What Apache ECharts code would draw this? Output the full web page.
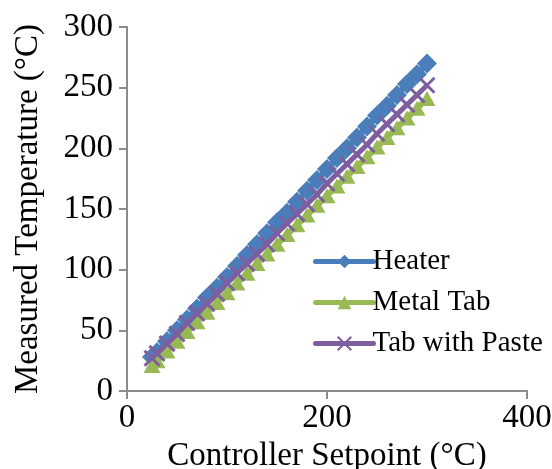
<!DOCTYPE html>
<html>
<head>
<meta charset="utf-8">
<script src="https://cdn.jsdelivr.net/npm/echarts@6/dist/echarts.min.js"></script>
<style>
  html, body { margin: 0; padding: 0; background: #fff; }
  #chart { width: 552px; height: 469px; }
</style>
</head>
<body>
<div id="chart"></div>
<script>
// Controller setpoints (°C)
const setpoints = [25, 30, 40, 50, 60, 70, 80, 90, 100, 110, 120, 130, 140, 150, 160,
                   170, 180, 190, 200, 210, 220, 230, 240, 250, 260, 270, 280, 290, 300];
// Measured temperatures (°C)
const heater = [28, 32, 41, 50, 59, 68, 77, 85, 94, 103, 112, 121, 130, 139, 147,
                156, 165, 174, 183, 192, 200, 209, 218, 227, 235, 244, 253, 261, 270];
const metalTab = [21, 25, 33, 41, 49, 57, 65, 73, 81, 89, 97, 105, 113, 121, 129,
                  137, 145, 153, 161, 169, 177, 185, 193, 201, 209, 217, 225, 233, 241];
const tabWithPaste = [27, 31, 39, 47, 56, 64, 72, 80, 89, 97, 105, 113, 121, 130, 138,
                      146, 154, 162, 171, 179, 187, 195, 203, 212, 220, 228, 236, 244, 252];
const seriesNames = ['Heater', 'Metal Tab', 'Tab with Paste'];
const xTicks = { min: 0, max: 400, interval: 200 };
const yTicks = { min: 0, max: 300, interval: 50 };

const pair = (ys) => setpoints.map((x, i) => [x, ys[i]]);
const font = 'Liberation Serif, Times New Roman, serif';
const axisGray = '#8c8c8c';

const chart = echarts.init(document.getElementById('chart'), null, { renderer: 'canvas' });
chart.setOption({
  animation: false,
  backgroundColor: '#ffffff',
  grid: { left: 127, right: 25, top: 27, bottom: 78, containLabel: false, outerBoundsMode: 'none' },
  legend: {
    orient: 'vertical',
    left: 308,
    top: 242,
    itemWidth: 58,
    itemHeight: 17,
    itemGap: 12,
    lineStyle: { width: 5, cap: 'round' },
    textStyle: { fontFamily: font, fontSize: 29, color: '#000', padding: [0, 0, 0, -6] },
    data: seriesNames
  },
  xAxis: {
    type: 'value',
    min: xTicks.min, max: xTicks.max, interval: xTicks.interval,
    name: 'Controller Setpoint (°C)',
    nameLocation: 'middle',
    nameGap: 44,
    nameTextStyle: { fontFamily: font, fontSize: 33, color: '#000' },
    axisLine: { show: true, lineStyle: { color: axisGray, width: 2 } },
    axisTick: { show: true, inside: false, length: 8, lineStyle: { color: axisGray, width: 2 } },
    axisLabel: { fontFamily: font, fontSize: 33, color: '#000', margin: 11 },
    splitLine: { show: false }
  },
  yAxis: {
    type: 'value',
    min: yTicks.min, max: yTicks.max, interval: yTicks.interval,
    name: 'Measured Temperature (°C)',
    nameLocation: 'middle',
    nameGap: 82,
    nameTextStyle: { fontFamily: font, fontSize: 33, color: '#000' },
    axisLine: { show: true, lineStyle: { color: axisGray, width: 2 } },
    axisTick: { show: true, inside: false, length: 8, lineStyle: { color: axisGray, width: 2 } },
    axisLabel: { fontFamily: font, fontSize: 33, color: '#000', margin: 14 },
    splitLine: { show: false }
  },
  series: [
    {
      name: seriesNames[0],
      type: 'line',
      data: pair(heater),
      symbol: 'diamond',
      symbolSize: 20,
      itemStyle: { color: '#4a7ebb' },
      lineStyle: { color: '#4a7ebb', width: 6 },
      z: 2
    },
    {
      name: seriesNames[1],
      type: 'line',
      data: pair(metalTab),
      symbol: 'triangle',
      symbolSize: [17, 15],
      itemStyle: { color: '#98b954' },
      lineStyle: { color: '#98b954', width: 6 },
      z: 3
    },
    {
      name: seriesNames[2],
      type: 'line',
      data: pair(tabWithPaste),
      symbol: 'path://M0,0L10,10M10,0L0,10',
      symbolSize: 15,
      itemStyle: { color: 'rgba(0,0,0,0)', borderColor: '#7d5fa0', borderWidth: 3 },
      lineStyle: { color: '#7d5fa0', width: 5 },
      z: 4
    }
  ]
});
</script>
</body>
</html>
